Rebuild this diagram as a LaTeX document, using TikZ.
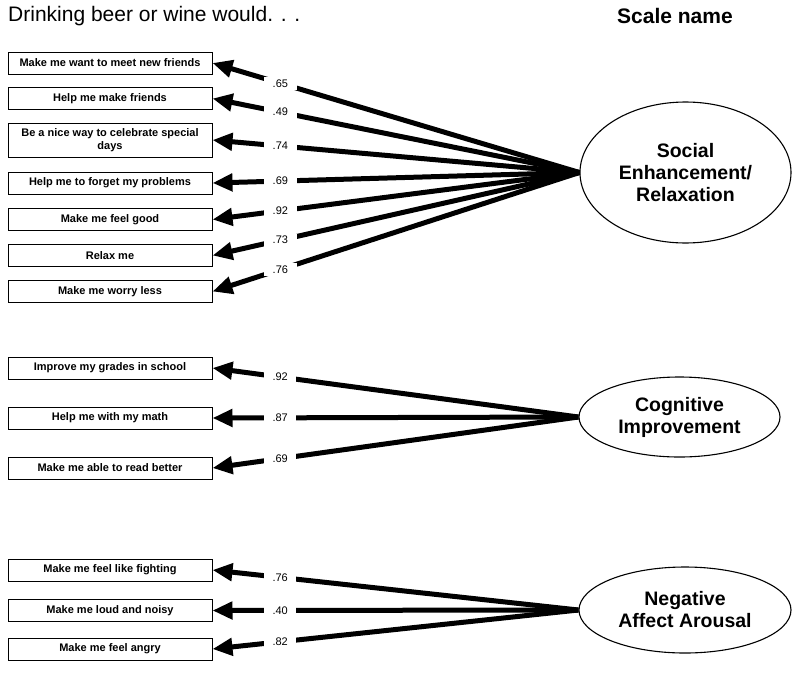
\documentclass[tikz,border=0pt]{standalone}
\usepackage{fontspec}
\setmainfont{Liberation Sans}
\usetikzlibrary{arrows.meta}
\usetikzlibrary{shapes.geometric}

\tikzset{
  item/.style={draw, line width=1pt, minimum width=204pt, minimum height=22pt,
    inner sep=2pt, align=center, font=\fontsize{11}{12.5}\selectfont\bfseries},
  factor/.style={draw, ellipse, line width=1.1pt, inner sep=0pt, align=center,
    font=\fontsize{19.5}{22}\selectfont\bfseries},
  load/.style={line width=5pt, -{Triangle[length=20pt, width=17pt]}},
  lab/.style={pos=0.815, fill=white, inner xsep=8.5pt, inner ysep=2.5pt,
    font=\fontsize{11}{12}\selectfont},
}

\begin{document}
\begin{tikzpicture}[x=1pt, y=-1pt]
    \useasboundingbox (0,0) rectangle (800,672);
    \node[anchor=west, inner sep=0pt, font=\fontsize{21}{24}\selectfont] (head) at (8,16) {Drinking beer or wine would. . .};
    \node[inner sep=0pt, font=\fontsize{21}{24}\selectfont\bfseries] (scale) at (675,16) {Scale name};

    % social enhancement / relaxation
    \node[item] (s1) at (110,63) {Make me want to meet new friends};
    \node[item] (s2) at (110,98.5) {Help me make friends};
    \node[item, minimum height=34pt] (s3) at (110,140) {Be a nice way to celebrate special\\days};
    \node[item] (s4) at (110,183) {Help me to forget my problems};
    \node[item] (s5) at (110,219.5) {Make me feel good};
    \node[item] (s6) at (110,255.5) {Relax me};
    \node[item] (s7) at (110,291.5) {Make me worry less};
    \node[factor, minimum width=211pt, minimum height=141pt] (se) at (685.5,172.5) {Social\\Enhancement/\\Relaxation};
    \draw[load] (se.west) -- node[lab]{.65} (s1.east);
    \draw[load] (se.west) -- node[lab]{.49} (s2.east);
    \draw[load] (se.west) -- node[lab]{.74} (s3.east);
    \draw[load] (se.west) -- node[lab]{.69} (s4.east);
    \draw[load] (se.west) -- node[lab]{.92} (s5.east);
    \draw[load] (se.west) -- node[lab]{.73} (s6.east);
    \draw[load] (se.west) -- node[lab]{.76} (s7.east);

    % cognitive improvement
    \node[item] (c1) at (110,368) {Improve my grades in school};
    \node[item] (c2) at (110,418) {Help me with my math};
    \node[item] (c3) at (110,468) {Make me able to read better};
    \node[factor, minimum width=201pt, minimum height=80pt] (ci) at (679.5,417) {Cognitive\\Improvement};
    \draw[load] (ci.west) -- node[lab]{.92} (c1.east);
    \draw[load] (ci.west) -- node[lab]{.87} (c2.east);
    \draw[load] (ci.west) -- node[lab]{.69} (c3.east);

    % negative affect arousal
    \node[item] (n1) at (110,570) {Make me feel like fighting};
    \node[item] (n2) at (110,610.5) {Make me loud and noisy};
    \node[item] (n3) at (110,649) {Make me feel angry};
    \node[factor, minimum width=212pt, minimum height=86pt] (na) at (685,610) {Negative\\Affect Arousal};
    \draw[load] (na.west) -- node[lab]{.76} (n1.east);
    \draw[load] (na.west) -- node[lab]{.40} (n2.east);
    \draw[load] (na.west) -- node[lab]{.82} (n3.east);
\end{tikzpicture}
\end{document}
